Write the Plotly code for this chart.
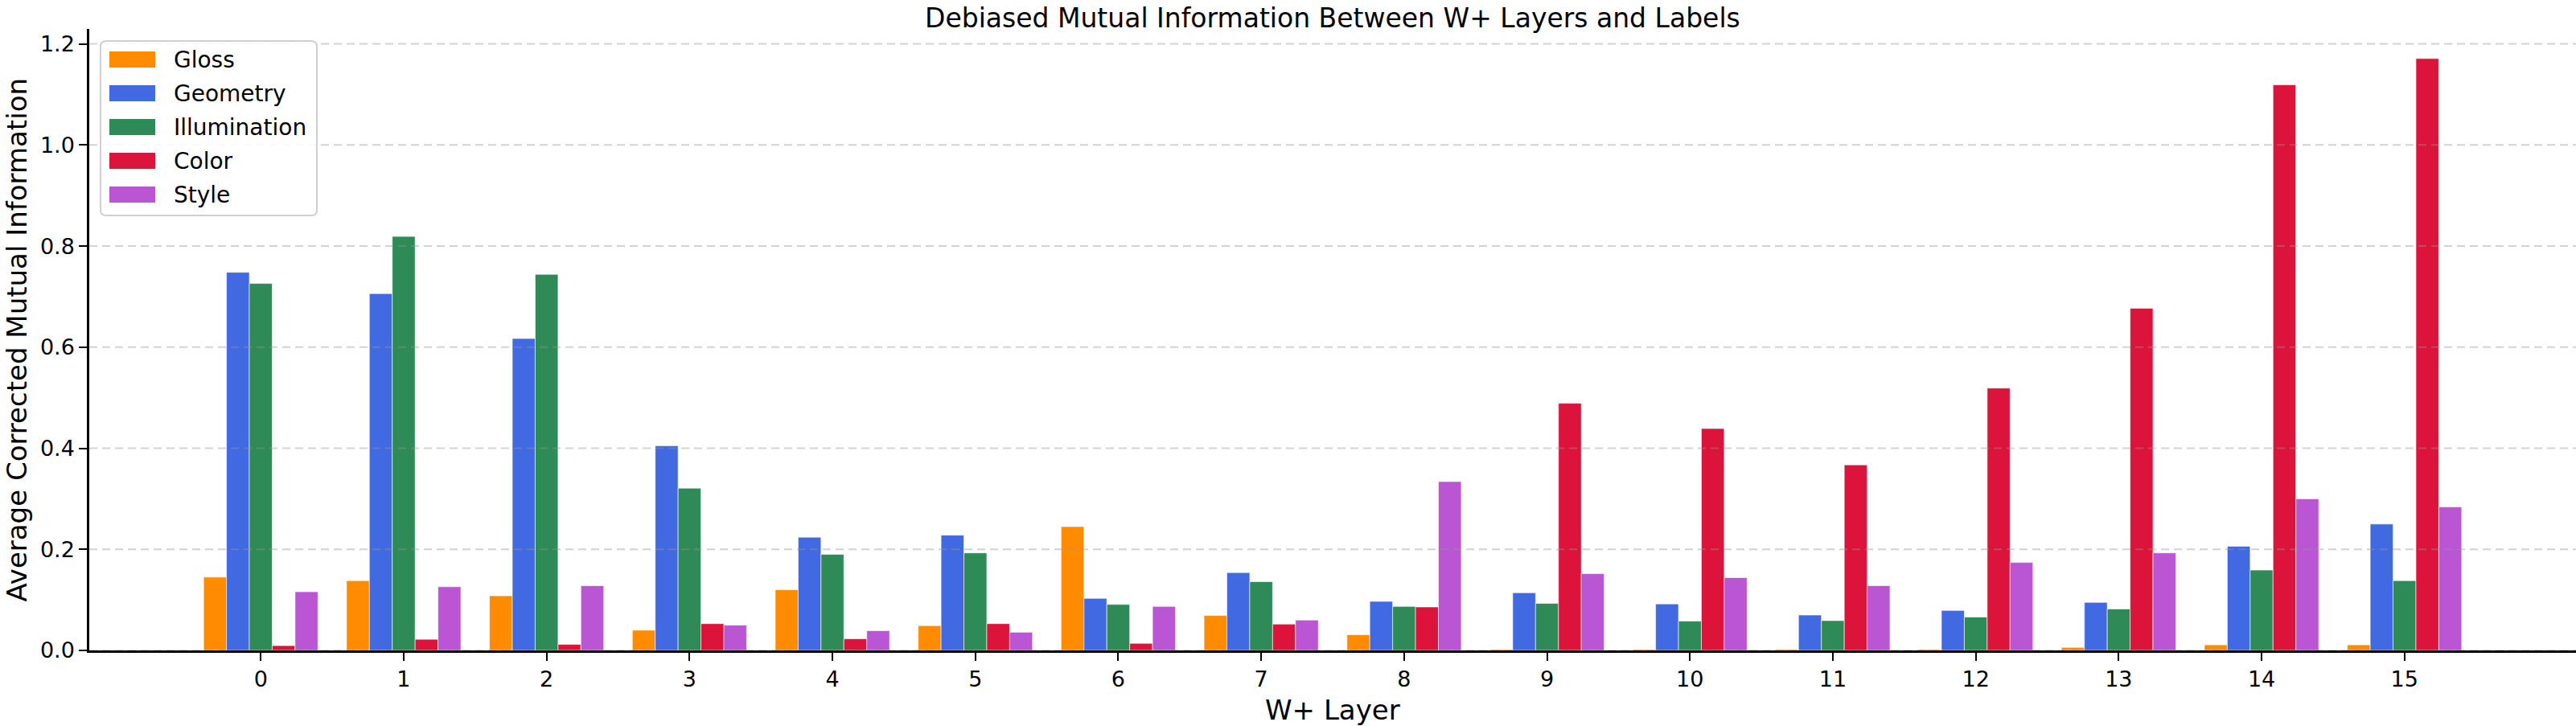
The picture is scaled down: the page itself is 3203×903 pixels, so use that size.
import plotly.graph_objects as go

layers = list(range(16))
layer_labels = [str(i) for i in layers]
series_names = ["Gloss", "Geometry", "Illumination", "Color", "Style"]
series_colors = ["#FF8C00", "#4169E1", "#2E8B57", "#DC143C", "#BA55D3"]

gloss = [0.145, 0.138, 0.108, 0.040, 0.120, 0.049, 0.245, 0.069, 0.031, 0.002, 0.002, 0.002, 0.002, 0.006, 0.011, 0.011]
geometry = [0.748, 0.706, 0.617, 0.405, 0.224, 0.228, 0.103, 0.154, 0.097, 0.114, 0.092, 0.070, 0.079, 0.095, 0.206, 0.250]
illumination = [0.726, 0.819, 0.744, 0.321, 0.190, 0.193, 0.091, 0.136, 0.087, 0.093, 0.058, 0.059, 0.066, 0.082, 0.159, 0.138]
color = [0.0095, 0.022, 0.012, 0.053, 0.023, 0.053, 0.014, 0.052, 0.086, 0.489, 0.439, 0.367, 0.519, 0.677, 1.119, 1.171]
style = [0.116, 0.126, 0.128, 0.050, 0.039, 0.036, 0.087, 0.060, 0.334, 0.152, 0.144, 0.128, 0.174, 0.193, 0.300, 0.284]
series_values = [gloss, geometry, illumination, color, style]

y_ticks = [0.0, 0.2, 0.4, 0.6, 0.8, 1.0, 1.2]

W, H = 3203, 903
ML, MR, MT, MB = 111, 0, 36, 94
PW, PH = W - ML - MR, H - MT - MB
FONT = "DejaVu Sans"

def px_x(px):
    return (px - ML) / PW

def px_y(py):
    return (H - MB - py) / PH

fig = go.Figure()
for name, col, vals in zip(series_names, series_colors, series_values):
    fig.add_trace(go.Bar(
        x=layers, y=vals, name=name,
        marker=dict(color=col, line=dict(color="rgba(255,255,255,0.6)", width=1)),
        showlegend=False,
    ))

ymax = max(max(v) for v in series_values) * 1.05

shapes = []
# dashed gridlines drawn above bars (like matplotlib with alpha)
for t in y_ticks:
    shapes.append(dict(type="line", xref="paper", yref="y", x0=0, x1=1, y0=t, y1=t,
                       layer="above", line=dict(color="rgba(150,150,150,0.42)", width=2, dash="10px,6px")))

# manual legend
lx0, lx1, ly0, ly1 = px_x(125), px_x(394), px_y(268), px_y(51)
rx, ry = 7 / PW, 7 / PH
path = (f"M {lx0+rx},{ly1} L {lx1-rx},{ly1} Q {lx1},{ly1} {lx1},{ly1-ry} "
        f"L {lx1},{ly0+ry} Q {lx1},{ly0} {lx1-rx},{ly0} L {lx0+rx},{ly0} "
        f"Q {lx0},{ly0} {lx0},{ly0+ry} L {lx0},{ly1-ry} Q {lx0},{ly1} {lx0+rx},{ly1} Z")
shapes.append(dict(type="path", xref="paper", yref="paper", path=path, layer="above",
                   fillcolor="rgba(255,255,255,0.85)", line=dict(color="#d0d0d0", width=2)))
annotations = []
row_centers = [74, 116, 158, 200, 242]
for name, col, cy in zip(series_names, series_colors, row_centers):
    shapes.append(dict(type="rect", xref="paper", yref="paper", layer="above",
                       x0=px_x(136), x1=px_x(193), y0=px_y(cy + 10), y1=px_y(cy - 10),
                       fillcolor=col, line=dict(width=0)))
    annotations.append(dict(xref="paper", yref="paper", x=px_x(214), y=px_y(cy),
                            xanchor="left", yanchor="middle", showarrow=False, text=name,
                            font=dict(family=FONT, size=28, color="#000")))

# title and axis titles
annotations.append(dict(xref="paper", yref="paper", x=0.5, y=px_y(2), xanchor="center", yanchor="top",
                        showarrow=False, borderpad=0,
                        text="Debiased Mutual Information Between W+ Layers and Labels",
                        font=dict(family=FONT, size=33, color="#000")))
annotations.append(dict(xref="paper", yref="paper", x=px_x(20), y=0.5, xanchor="center", yanchor="middle",
                        textangle=-90, showarrow=False, text="Average Corrected Mutual Information",
                        font=dict(family=FONT, size=34, color="#000")))
annotations.append(dict(xref="paper", yref="paper", x=0.5, y=px_y(883), xanchor="center", yanchor="middle",
                        showarrow=False, text="W+ Layer", font=dict(family=FONT, size=34, color="#000")))

fig.update_layout(
    width=W, height=H,
    margin=dict(l=ML, r=MR, t=MT, b=MB, pad=0),
    paper_bgcolor="white", plot_bgcolor="white",
    barmode="group", bargap=0.2, bargroupgap=0,
    xaxis=dict(range=[-1.2, 16.2], tickmode="array", tickvals=layers, ticktext=layer_labels,
               showgrid=False, zeroline=False, showline=True, linecolor="#000", linewidth=2.5,
               ticks="outside", ticklen=10, tickwidth=2, tickcolor="#000",
               tickfont=dict(family=FONT, size=27, color="#000")),
    yaxis=dict(range=[0, ymax], tickmode="array", tickvals=y_ticks,
               ticktext=[f"{t:.1f}" for t in y_ticks],
               showgrid=False, zeroline=False, showline=True, linecolor="#000", linewidth=2.5,
               ticks="outside", ticklen=10, tickwidth=2, tickcolor="#000",
               tickfont=dict(family=FONT, size=27, color="#000")),
    shapes=shapes, annotations=annotations, showlegend=False,
)

fig.write_html("out.html")
